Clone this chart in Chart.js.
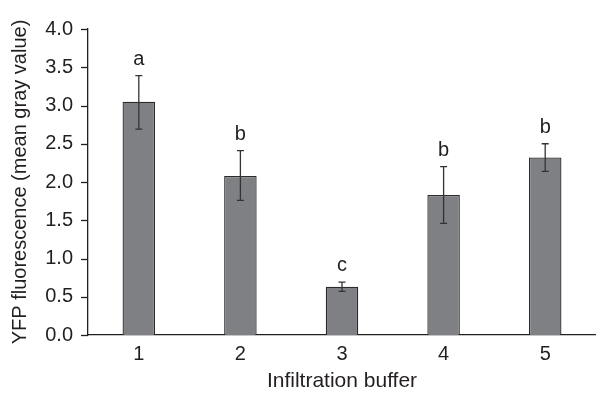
<!DOCTYPE html>
<html>
<head>
<meta charset="utf-8">
<script src="https://cdn.jsdelivr.net/npm/chart.js@4"></script>
<style>
  html, body { margin: 0; padding: 0; background: #fff; }
  #wrap { width: 596px; height: 394px; }
</style>
</head>
<body>
<div id="wrap"><canvas id="chart" width="596" height="394"></canvas></div>
<script>
var categories = ['1', '2', '3', '4', '5'];
var means = [3.05, 2.08, 0.63, 1.83, 2.32];
var errLow = [2.69, 1.76, 0.57, 1.46, 2.14];
var errHigh = [3.39, 2.41, 0.69, 2.20, 2.50];
var letters = ['a', 'b', 'c', 'b', 'b'];

var fontFamily = '"Liberation Sans", Arial, Helvetica, sans-serif';
var ink = '#231f20';

// error bars + significance letters
var errorBars = {
    id: 'errorBars',
    afterDatasetsDraw: function(chart) {
        var ctx = chart.ctx;
        var y = chart.scales.y;
        var meta = chart.getDatasetMeta(0);
        ctx.save();
        ctx.strokeStyle = '#333';
        ctx.lineWidth = 1.3;
        meta.data.forEach(function(bar, i) {
            var x = bar.x;
            var top = y.getPixelForValue(errHigh[i]);
            var bot = y.getPixelForValue(errLow[i]);
            ctx.beginPath();
            ctx.moveTo(x, top); ctx.lineTo(x, bot);
            ctx.moveTo(x - 3.5, top); ctx.lineTo(x + 3.5, top);
            ctx.moveTo(x - 3.5, bot); ctx.lineTo(x + 3.5, bot);
            ctx.stroke();
            ctx.fillStyle = ink;
            ctx.font = '20px ' + fontFamily;
            ctx.textAlign = 'center';
            ctx.textBaseline = 'alphabetic';
            ctx.fillText(letters[i], x, top - 11);
        });
        ctx.restore();
    }
};

// major and minor ticks on the y axis
var yTicks = {
    id: 'yTicks',
    afterDraw: function(chart) {
        var ctx = chart.ctx;
        var y = chart.scales.y;
        ctx.save();
        ctx.strokeStyle = ink;
        ctx.lineWidth = 1.3;
        y.ticks.forEach(function(t) {
            var py = Math.round(y.getPixelForValue(t.value)) + 0.5;
            var major = Math.abs(t.value * 2 - Math.round(t.value * 2)) < 1e-6;
            var len = major ? 7 : 5;
            ctx.beginPath();
            ctx.moveTo(y.right, py);
            ctx.lineTo(y.right - len, py);
            ctx.stroke();
        });
        ctx.restore();
    }
};

var chart = new Chart(document.getElementById('chart').getContext('2d'), {
    type: 'bar',
    data: {
        labels: categories,
        datasets: [{
            data: means,
            backgroundColor: '#7f8084',
            borderColor: '#2b2b2b',
            borderWidth: 1.3,
            categoryPercentage: 1,
            barPercentage: 0.32
        }]
    },
    options: {
        responsive: false,
        animation: false,
        layout: { padding: { top: 29, right: 0, bottom: 0, left: 0 } },
        plugins: { legend: { display: false }, tooltip: { enabled: false } },
        scales: {
            x: {
                grid: { display: false, drawTicks: false },
                border: { color: ink, width: 1.3 },
                ticks: { color: ink, padding: 7, font: { family: fontFamily, size: 20 } },
                title: {
                    display: true,
                    text: 'Infiltration buffer',
                    color: ink,
                    font: { family: fontFamily, size: 21 },
                    padding: { top: 0, bottom: 0 }
                },
                afterFit: function(scale) { scale.height = 59; }
            },
            y: {
                min: 0,
                max: 4,
                grid: { display: false, drawTicks: false },
                border: { color: ink, width: 1.3 },
                ticks: {
                    stepSize: 0.25,
                    color: ink,
                    padding: 15,
                    font: { family: fontFamily, size: 20 },
                    callback: function(v) {
                        return Math.abs(v * 2 - Math.round(v * 2)) < 1e-6 ? v.toFixed(1) : '';
                    }
                },
                title: {
                    display: true,
                    text: 'YFP fluorescence (mean gray value)',
                    color: ink,
                    font: { family: fontFamily, size: 20 },
                    padding: { top: 8, bottom: 0 }
                },
                afterFit: function(scale) { scale.width = 88; }
            }
        }
    },
    plugins: [errorBars, yTicks]
});
</script>
</body>
</html>
